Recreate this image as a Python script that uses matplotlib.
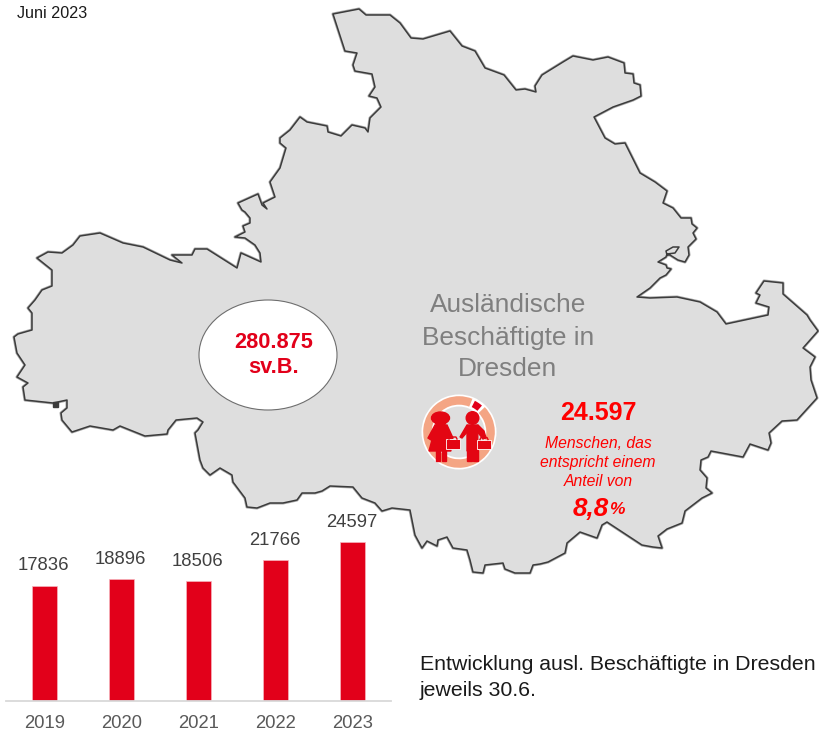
import matplotlib
matplotlib.use("Agg")
import matplotlib.pyplot as plt
import matplotlib.patheffects as pe
from matplotlib.patches import Polygon, Ellipse, Wedge, Circle, Rectangle

plt.rcParams['font.family'] = ['Liberation Sans', 'DejaVu Sans']

# ---- data ----
years = ['2019', '2020', '2021', '2022', '2023']
employees = [17836, 18896, 18506, 21766, 24597]

# outline of the city area (pixels)
outline_north = [(333,14),(359,9),(366,15),(378,15),(390,15),(400,23),(411,38),(423,39),(450,31),(462,46),
    (475,51),(485,68),(504,75),(516,90),(525,89),(536,92),(535,86),(542,75),(563,62),(573,56),(593,60),
    (608,57),(624,63),(625,73),(633,74),(634,83),(640,85),(641,96),(633,100),(613,107),(594,117),(605,138),
    (615,144),(625,143),(640,173),(655,182),(667,191),(663,203)]
outline_east = [(673,208),(681,218),(691,218),(692,224),(697,228),(693,233),(696,239),(688,247),(689,255),
    (685,262),(678,260),(670,255),(667,255),(666,251),(673,247),(679,247),(675,253),(667,254),(666,257),
    (658,262),(666,265),(667,268),(671,269),(666,275),(660,278),(650,288),(637,297),(650,298),(677,297),
    (700,302),(717,312),(726,324),(768,315),(769,307),(756,303),(760,295),(756,293),(764,281),(783,283),
    (783,294),(807,315),(810,320),(818,331),(803,348),(815,357),(810,367),(811,380),(817,398),(797,420),
    (782,421),(769,433),(771,443),(768,450),(750,444),(743,457),(711,451),(708,457),(701,460),(700,470),
    (707,478),(706,488),(712,493),(702,498),(685,511),(682,523),(667,529),(658,536),(662,548),(653,547),
    (642,545),(607,522),(602,525),(597,538),(580,532)]
outline_south = [(567,543),(565,553),(548,562),(540,564),(533,565),(530,573),(515,573),(505,569),(503,563),
    (485,565),(483,573),(473,572),(470,560),(467,550),(453,548),(447,537),(438,540),(437,546),(427,541),
    (422,548),(415,535),(410,510),(392,508),(382,511),(375,503),(362,498),(353,487),(330,486),(322,491),
    (315,493),(302,493),(297,500),(283,503),(270,503),(257,508),(247,507),(245,498),(233,482),(232,475),
    (220,468),(210,475),(203,468),(200,460),(195,433),(198,430),(203,422)]
outline_west = [(197,418),(176,420),(168,430),(167,434),(145,436),(120,426),(113,430),(90,426),(72,432),
    (62,420),(61,413),(67,408),(67,400),(53,403),(25,400),(23,387),(28,383),(17,377),(25,365),(17,353),
    (14,337),(18,334),(32,330),(32,313),(28,308),(35,300),(42,290),(52,286),(52,270),(37,258),(48,252),
    (62,253),(73,245),(80,236),(100,233),(123,243),(143,247),(170,260),(182,263),(172,255),(192,255),
    (195,249),(207,249),(237,268),(241,253),(261,262),(260,253),(255,245),(245,238),(235,237),(245,232),
    (243,226),(250,223),(250,218),(245,212),(242,210),(238,203),(258,194),(262,205),(267,209),(263,203),
    (275,197),(270,182),(280,168),(286,148),(280,143),(280,138),(290,130),(300,117),(307,122),(327,126),
    (328,132),(341,136),(352,125),(365,128),(368,132),(370,118),(381,107),(377,98),(369,96),(375,87),
    (372,74),(355,71),(353,65),(357,53),(345,51)]

RED = '#E2001A'
fig = plt.figure(figsize=(8.19, 7.32), dpi=100)
m = fig.add_axes([0, 0, 1, 1])
m.set_xlim(0, 819); m.set_ylim(732, 0); m.axis('off')

blur = [pe.Stroke(linewidth=2.2, foreground='#a8a8a8'), pe.Stroke(linewidth=1.1, foreground='#3c3c3c')]
poly = Polygon(outline_north + outline_east + outline_south + outline_west, closed=True,
               facecolor='#DEDEDE', edgecolor='#3c3c3c', linewidth=1.1, joinstyle='round')
poly.set_path_effects(blur)
m.add_patch(poly)
m.add_patch(Rectangle((52.5, 402), 5, 5, color='#3c3c3c'))

m.add_patch(Ellipse((268, 355), 138, 110, facecolor='white', edgecolor='#6e6e6e', linewidth=0.8))

# icon
cx, cy = 459, 432
ORANGE = '#F4A584'
m.add_patch(Wedge((cx, cy), 37.5, 0, 360, width=12, facecolor='white', edgecolor='none'))
m.add_patch(Wedge((cx, cy), 35.8, -44, 292, width=8.5, facecolor=ORANGE, edgecolor='none'))
m.add_patch(Wedge((cx, cy), 35, -63, -49, width=7, facecolor=RED, edgecolor='none'))
IC = '#E30613'
# woman
m.add_patch(Ellipse((440.5, 418), 18, 12, color=IC))
m.add_patch(Circle((440.5, 421), 5.5, color=IC))
m.add_patch(Polygon([(435,425),(447,425),(453,438),(450,440),(448,436),(451,451),(429,451),(433,436),(431,440),(428,438)], color=IC))
m.add_patch(Rectangle((436, 450), 4, 11, color=IC))
m.add_patch(Rectangle((442, 450), 4, 11, color=IC))
m.add_patch(Rectangle((445.5, 439), 14.5, 9.5, facecolor=IC, edgecolor='white', linewidth=0.6))
m.plot([449, 450, 456, 457], [439, 437, 437, 439], color=IC, lw=1)
# man
m.add_patch(Circle((472.5, 418), 6.3, color=IC))
m.add_patch(Polygon([(467,425),(478,425),(477.5,451),(467,451)], color=IC))
m.add_patch(Polygon([(467,425),(469,430),(462,438),(460,437)], color=IC))
m.add_patch(Polygon([(478,425),(484,431),(486,438),(483,439),(476,430)], color=IC))
m.add_patch(Rectangle((467, 450), 4.5, 11, color=IC))
m.add_patch(Rectangle((473, 450), 4.5, 11, color=IC))
m.add_patch(Rectangle((477, 439.5), 14, 9.5, facecolor=IC, edgecolor='white', linewidth=0.6))
m.plot([480, 481, 487, 488], [439.5, 437.5, 437.5, 439.5], color=IC, lw=1)

def t(x, y, s, size, color, weight='normal', style='normal', ha='center'):
    m.text(x, y + 1.5, s, fontsize=size, color=color, fontweight=weight, fontstyle=style,
           ha=ha, va='center')

t(17, 12, 'Juni 2023', 11.6, '#1a1a1a', ha='left')
t(508, 304, 'Ausländische', 18.9, '#7F7F7F')
t(508, 336, 'Beschäftigte in', 18.9, '#7F7F7F')
t(508, 368, 'Dresden', 18.9, '#7F7F7F')
t(274, 341, '280.875', 15.7, RED, weight='bold')
t(274, 366, 'sv.B.', 15.7, RED, weight='bold')
t(598, 412, '24.597', 18, '#FF0000', weight='bold')
t(598, 442, 'Menschen, das', 11.3, '#FF0000', style='italic')
t(598, 461, 'entspricht einem', 11.3, '#FF0000', style='italic')
t(598, 480, 'Anteil von', 11.3, '#FF0000', style='italic')
t(573, 507, '8,8', 18.7, '#FF0000', weight='bold', style='italic', ha='left')
t(609, 508, '%', 12.5, '#FF0000', weight='bold', style='italic', ha='left')
t(420, 663, 'Entwicklung ausl. Beschäftigte in Dresden', 15.35, '#1a1a1a', ha='left')
t(420, 689, 'jeweils 30.6.', 15.35, '#1a1a1a', ha='left')

# bars
W, H = 819, 732
left, right, top, base = 6, 391, 530, 700.7
b = fig.add_axes([left/W, 1-base/H, (right-left)/W, (base-top)/H])
b.patch.set_alpha(0)
b.set_xlim(-0.5, 4.5); b.set_ylim(0, 26500)
bars = b.bar(range(5), employees, width=0.32, color=RED, edgecolor='#F7B5BD', linewidth=0.5)
for i, v in enumerate(employees):
    b.annotate(str(v), (i, v), xytext=(-0.5, 14.3), textcoords='offset points', ha='center', va='center',
               fontsize=13.3, color='#404040', annotation_clip=False)
b.set_xticks(range(5), years)
b.tick_params(axis='x', length=0, pad=10.5, labelsize=13.3, labelcolor='#595959')
b.set_yticks([])
for s in ['top', 'left', 'right']:
    b.spines[s].set_visible(False)
b.spines['bottom'].set_color('#D9D9D9')
b.spines['bottom'].set_linewidth(1.3)

fig.savefig('out.png', dpi=100)
